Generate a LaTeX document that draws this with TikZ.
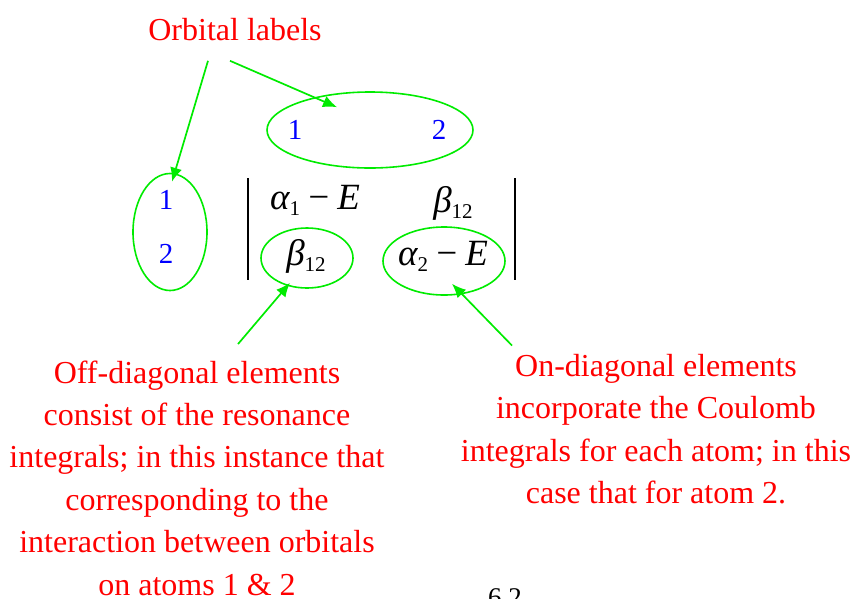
\documentclass[tikz,border=0pt]{standalone}
\usepackage{fontspec}
\setmainfont{Liberation Serif}
\usetikzlibrary{shapes.geometric,arrows.meta,calc}
\definecolor{notegreen}{RGB}{0,235,0}
\definecolor{notered}{RGB}{255,0,0}
\definecolor{orbblue}{RGB}{0,0,255}
\newcommand{\subnum}[1]{\raisebox{-0.35ex}{\fontsize{21}{21}\selectfont\upshape #1}}

\begin{document}
\begin{tikzpicture}[
    x=1pt, y=-1pt,
    ring/.style={ellipse, draw=notegreen, line width=1.6pt, inner sep=0pt},
    pointer/.style={-{Latex[length=14pt,width=12pt]}, draw=notegreen, line width=1.7pt},
    note/.style={text=notered, font=\fontsize{32}{42.4}\selectfont, align=center},
    orb/.style={text=orbblue, font=\fontsize{29}{30}\selectfont},
    entry/.style={font=\fontsize{37}{37}\selectfont\itshape}
]
\useasboundingbox (0,0) rectangle (853,598);

% Caption at the top
\node[note] (lbl) at (235,30) {Orbital labels};

% Column and row labels
\node[ring, minimum width=206pt, minimum height=76pt] (colring) at (370,130) {};
\node[orb] (col1) at (295,130) {1};
\node[orb] (col2) at (439,130) {2};
\node[ring, minimum width=74pt, minimum height=117pt] (rowring) at (170,232) {};
\node[orb] (row1) at (166,200) {1};
\node[orb] (row2) at (166,254) {2};

% Determinant
\draw[line width=1.3pt] (248,178) -- (248,280);
\draw[line width=1.3pt] (515,178) -- (515,280);
\node[entry] (a11) at (315,200) {α\subnum{1}\,−\,E};
\node[entry] (a12) at (453,203) {β\subnum{12}};
\node[entry] (a21) at (306,256) {β\subnum{12}};
\node[entry] (a22) at (443,256) {α\subnum{2}\,−\,E};
\node[ring, minimum width=92pt, minimum height=60pt] (offring) at (307,258) {};
\node[ring, minimum width=122pt, minimum height=68pt] (onring) at (444,261) {};

% Notes
\node[note] (offnote) at (197,478) {Off-diagonal elements\\consist of the resonance\\integrals; in this instance that\\corresponding to the\\interaction between orbitals\\on atoms 1 \& 2};
\node[note] (onnote) at (656,429) {On-diagonal elements\\incorporate the Coulomb\\integrals for each atom; in this\\case that for atom 2.};
\node[font=\fontsize{27}{27}\selectfont, anchor=base] (pagenum) at (505,606) {6.2};

% Arrow ends
\coordinate (lblA) at ($(lbl.south)+(-27,16)$);
\coordinate (lblB) at ($(lbl.south)+(-5,16)$);
\coordinate (rowtip) at ($(rowring.north)+(2,9)$);
\coordinate (coltip) at ($(colring.north)+(-33,16)$);
\coordinate (offtail) at ($(offnote.north)+(41,-13)$);
\coordinate (ontail) at ($(onnote.north)+(-144,-5)$);
\coordinate (offtip) at ($(offring.south)+(-17,-6)$);
\coordinate (ontip) at ($(onring.south)+(8,-12)$);

% Arrows
\draw[pointer] (lblA) -- (rowtip);
\draw[pointer] (lblB) -- (coltip);
\draw[pointer] (offtail) -- (offtip);
\draw[pointer] (ontail) -- (ontip);

\end{tikzpicture}
\end{document}
